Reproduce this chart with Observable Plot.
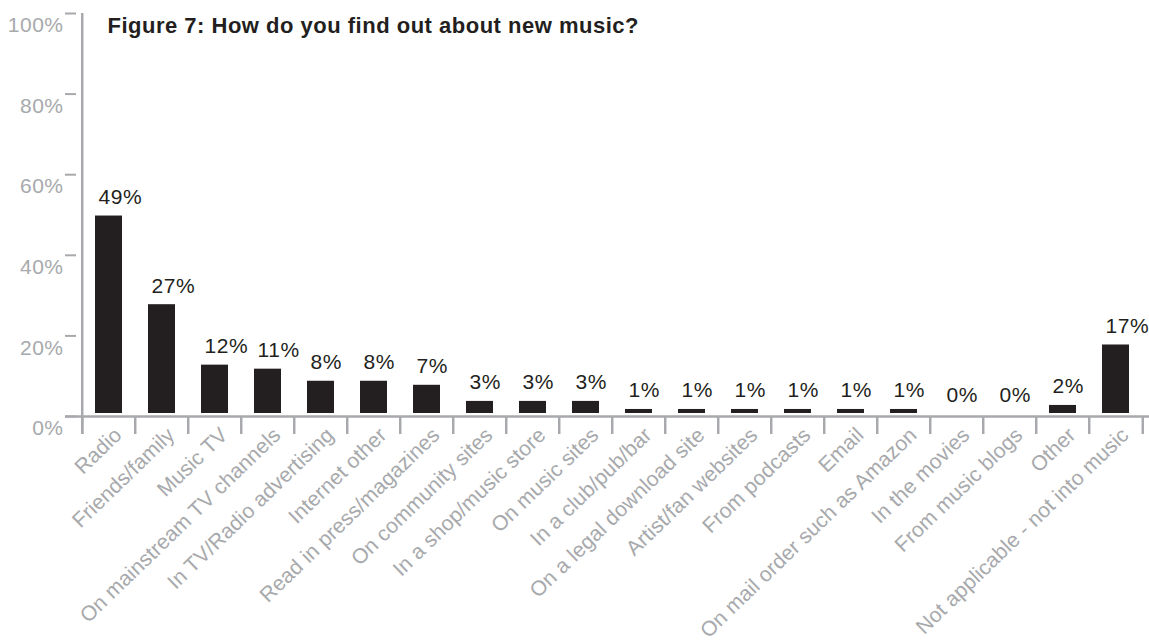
<!DOCTYPE html>
<html>
<head>
<meta charset="utf-8">
<script src="https://cdn.jsdelivr.net/npm/d3@7"></script>
<script src="https://cdn.jsdelivr.net/npm/@observablehq/plot@0.6"></script>
<style>
  html, body { margin: 0; padding: 0; background: #ffffff; }
  #chart svg text { letter-spacing: 0.5px; }
  #chart svg text[transform*="rotate"] { letter-spacing: 0.15px; }
</style>
</head>
<body>
<div id="chart"></div>
<script>
const titleText = "Figure 7: How do you find out about new music?";
const categories = [
  "Radio", "Friends/family", "Music TV", "On mainstream TV channels",
  "In TV/Radio advertising", "Internet other", "Read in press/magazines",
  "On community sites", "In a shop/music store", "On music sites",
  "In a club/pub/bar", "On a legal download site", "Artist/fan websites",
  "From podcasts", "Email", "On mail order such as Amazon", "In the movies",
  "From music blogs", "Other", "Not applicable - not into music"
];
const values = [49, 27, 12, 11, 8, 8, 7, 3, 3, 3, 1, 1, 1, 1, 1, 1, 0, 0, 2, 17];
const yTicks = [0, 20, 40, 60, 80, 100];

const data = categories.map((c, i) => ({category: c, value: values[i]}));

const W = 1149, H = 642, ML = 76, MR = 2, MT = 10, MB = 229;
const step = (W - ML - MR) / categories.length;
const bw = step * 0.5;
const grey = "#a7a9ac";
const ink = "#231f20";

const chart = Plot.plot({
  width: W,
  height: H,
  marginLeft: ML,
  marginRight: MR,
  marginTop: MT,
  marginBottom: MB,
  style: {fontFamily: "'Liberation Sans', Arial, Helvetica, sans-serif", fontSize: "21px", background: "#ffffff"},
  x: {domain: categories, paddingInner: 0.5, paddingOuter: 0.25, axis: null},
  y: {domain: [0, 100]},
  marks: [
    Plot.axisY({ticks: yTicks, tickSize: 11, tickFormat: () => "", fill: "none", label: null, dy: 3, stroke: grey, strokeWidth: 2}),
    Plot.axisY({ticks: yTicks, tickSize: 0, tickPadding: 13, tickFormat: d => d + "%", label: null, dy: 15, fill: grey, fontSize: 21}),
    Plot.ruleX([categories[0]], {x: d => d, dx: -step / 2, insetTop: 3, insetBottom: -21, stroke: grey, strokeWidth: 2.5}),
    Plot.ruleY([0], {dy: 3, insetLeft: -11, insetRight: -2, stroke: grey, strokeWidth: 2.5}),
    Plot.ruleX(categories, {x: d => d, dx: -step / 2, insetTop: 406, insetBottom: -21, stroke: grey, strokeWidth: 2.5}),
    Plot.ruleX([categories[categories.length - 1]], {x: d => d, dx: step / 2, insetTop: 406, insetBottom: -21, stroke: grey, strokeWidth: 2.5}),
    Plot.barY(data, {x: "category", y: "value", fill: ink}),
    Plot.text(data, {x: "category", y: "value", text: d => d.value + "%", textAnchor: "start", lineAnchor: "bottom", dx: -bw / 2 + 3, dy: -12, fill: ink, fontSize: 21}),
    Plot.text(data, {x: "category", text: "category", frameAnchor: "bottom", rotate: -44, textAnchor: "end", lineAnchor: "bottom", dx: 14, dy: 23, fill: grey, fontSize: 21}),
    Plot.text([titleText], {text: d => d, frameAnchor: "top-left", textAnchor: "start", lineAnchor: "bottom", dx: 31, dy: 22, fill: ink, fontSize: 22, fontWeight: "bold"})
  ]
});
document.getElementById("chart").appendChild(chart);
</script>
</body>
</html>
